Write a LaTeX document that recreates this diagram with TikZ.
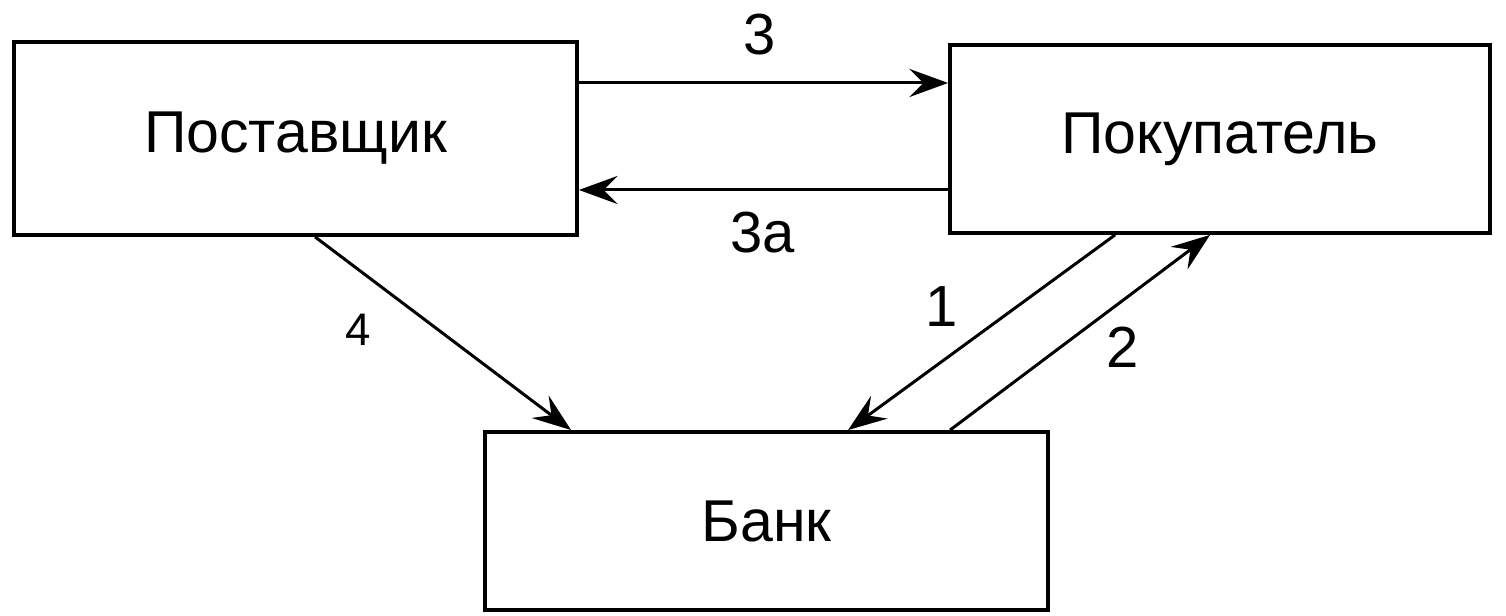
\documentclass[tikz,border=0pt]{standalone}
\usepackage{fontspec}
\setmainfont{Liberation Sans}
\usetikzlibrary{arrows.meta}
\begin{document}
\begin{tikzpicture}[
  box/.style={draw, line width=1.1pt, inner sep=0pt, font=\fontsize{16.8}{20}\selectfont},
  conn/.style={line width=0.85pt, -{Stealth[length=11pt,width=8pt,inset=4pt]}},
  lbl/.style={font=\fontsize{16.5}{20}\selectfont}
]
\useasboundingbox[fill=white] (0,0) rectangle (15.06,6.16);
\node[box, minimum width=5.63cm, minimum height=1.93cm] (post) at (2.955,4.775) {Поставщик\hspace{0.24cm}};
\node[box, minimum width=5.40cm, minimum height=1.88cm] (pok) at (12.20,4.77) {Покупатель};
\node[box, minimum width=5.63cm, minimum height=1.78cm] (bank) at (7.665,0.95) {Банк\hspace{0.3cm}};
\coordinate (y3) at (0,5.33);
\coordinate (y3a) at (0,4.26);
\draw[conn] (post.east |- y3) -- (pok.west |- y3);
\draw[conn] (pok.west |- y3a) -- (post.east |- y3a);
\draw[conn] ([xshift=3.03cm]post.south west) -- ([xshift=0.88cm]bank.north west);
\draw[conn] ([xshift=1.67cm]pok.south west) -- ([xshift=3.65cm]bank.north west);
\draw[conn] ([xshift=4.67cm]bank.north west) -- ([xshift=2.62cm]pok.south west);
\node[lbl] (l3) at (7.60,5.81) {3};
\node[lbl] (l3a) at (7.63,3.83) {3а};
\node[lbl, font=\fontsize{13}{16}\selectfont] (l4) at (3.58,2.86) {4};
\node[lbl] (l1) at (9.42,3.09) {1};
\node[lbl] (l2) at (11.23,2.69) {2};
\end{tikzpicture}
\end{document}
